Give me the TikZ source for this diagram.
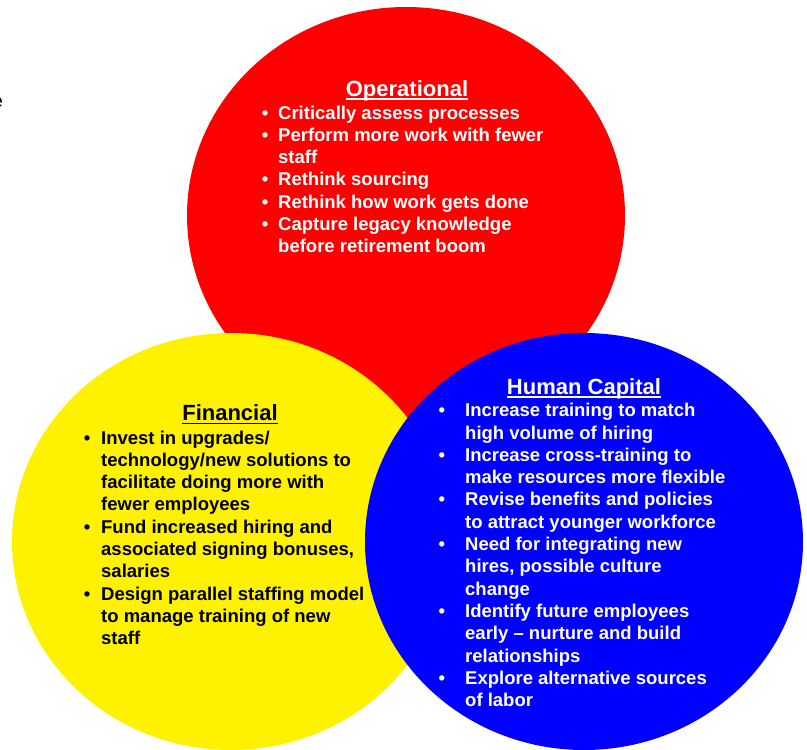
\documentclass[tikz,border=0pt]{standalone}
\usepackage{fontspec}
\setmainfont{Liberation Sans}
% bullet hanging to the left of an item's first line
\newcommand\itm[1]{\llap{\textbullet\hspace{#1}}}
\newcommand\itemlines[1]{\vtop{\baselineskip=22.3pt\lineskiplimit=-10pt #1}}
\begin{document}
\begin{tikzpicture}[x=1pt,y=-1pt,
  heading/.style={inner sep=0pt, anchor=base, font=\bfseries\fontsize{22}{26}\selectfont},
  itemblock/.style={inner sep=0pt, anchor=base west, font=\bfseries\fontsize{18.5}{22.3}\selectfont},
  uline/.style={line width=1.5pt},
]
\useasboundingbox (0,0) rectangle (807,750);

% the three overlapping discs
\fill[red]    (406,215.5) ellipse [x radius=219, y radius=208.5];
\fill[yellow] (231,541.5) ellipse [x radius=219, y radius=208.5];
\fill[blue]   (584,541.5) ellipse [x radius=219, y radius=208.5];

% stray letter at the left edge
\node[inner sep=0pt, anchor=base east, font=\fontsize{18.5}{22.3}\selectfont] (edge) at (3,107) {e};

% Operational
\node[heading, text=white] (optitle) at (407,96) {Operational};
\draw[uline, white] ([yshift=-3pt]optitle.base west) -- ([yshift=-3pt]optitle.base east);
\node[itemblock, text=white] (opitems) at (278,119) {\itemlines{%
  \hbox{\itm{9.8pt}Critically assess processes}
  \hbox{\itm{9.8pt}Perform more work with fewer}
  \hbox{staff}
  \hbox{\itm{9.8pt}Rethink sourcing}
  \hbox{\itm{9.8pt}Rethink how work gets done}
  \hbox{\itm{9.8pt}Capture legacy knowledge}
  \hbox{before retirement boom}}};

% Financial
\node[heading, text=black] (fintitle) at (230,420.7) {Financial};
\draw[uline, black] ([yshift=-3pt]fintitle.base west) -- ([yshift=-3pt]fintitle.base east);
\node[itemblock, text=black] (finitems) at (101,444) {\itemlines{%
  \hbox{\itm{10.8pt}Invest in upgrades/}
  \hbox{technology/new solutions to}
  \hbox{facilitate doing more with}
  \hbox{fewer employees}
  \hbox{\itm{10.8pt}Fund increased hiring and}
  \hbox{associated signing bonuses,}
  \hbox{salaries}
  \hbox{\itm{10.8pt}Design parallel staffing model}
  \hbox{to manage training of new}
  \hbox{staff}}};

% Human Capital
\node[heading, text=white] (hctitle) at (584,394) {Human Capital};
\draw[uline, white] ([yshift=-3pt]hctitle.base west) -- ([yshift=-3pt]hctitle.base east);
\node[itemblock, text=white] (hcitems) at (465,416.7) {\itemlines{%
  \hbox{\itm{20pt}Increase training to match}
  \hbox{high volume of hiring}
  \hbox{\itm{20pt}Increase cross-training to}
  \hbox{make resources more flexible}
  \hbox{\itm{20pt}Revise benefits and policies}
  \hbox{to attract younger workforce}
  \hbox{\itm{20pt}Need for integrating new}
  \hbox{hires, possible culture}
  \hbox{change}
  \hbox{\itm{20pt}Identify future employees}
  \hbox{early – nurture and build}
  \hbox{relationships}
  \hbox{\itm{20pt}Explore alternative sources}
  \hbox{of labor}}};
\end{tikzpicture}
\end{document}
